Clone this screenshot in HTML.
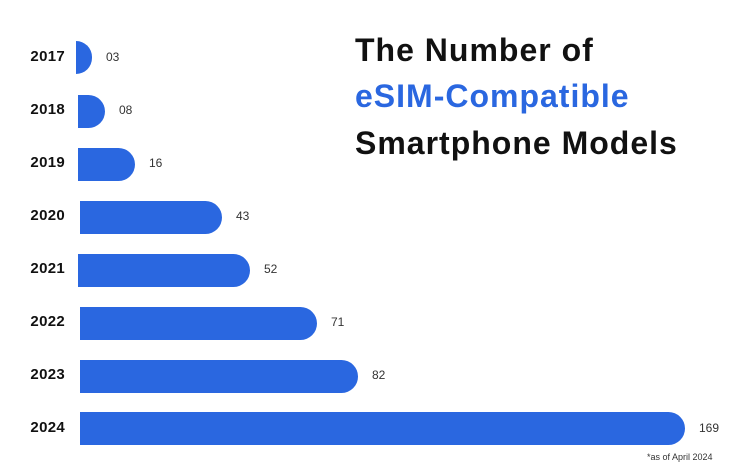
<!DOCTYPE html>
<html><head><style>
body{margin:0;width:745px;height:469px;background:#fff;position:relative;overflow:hidden;font-family:"Liberation Sans",sans-serif}
.y{position:absolute;left:0;width:65px;text-align:right;font-weight:bold;font-size:15px;color:#111;letter-spacing:0.3px}
.b{position:absolute;height:33px;background:#2a67e0;border-radius:0 17px 17px 0}
.v{position:absolute;font-size:12px;color:#333}
.t{position:absolute;left:355px;font-size:32px;font-weight:bold;color:#111;letter-spacing:1px}
</style></head><body>
<div class="t" style="top:32px">The Number of</div>
<div class="t" style="top:78px;color:#2a67e0">eSIM-Compatible</div>
<div class="t" style="top:125px">Smartphone Models</div>

<div class="y" style="top:48px">2017</div><div class="b" style="left:76px;top:41px;width:16px;border-radius:0 16px 16px 0"></div><div class="v" style="left:106px;top:50px">03</div>
<div class="y" style="top:101px">2018</div><div class="b" style="left:78px;top:95px;width:27px"></div><div class="v" style="left:119px;top:103px">08</div>
<div class="y" style="top:154px">2019</div><div class="b" style="left:78px;top:148px;width:57px"></div><div class="v" style="left:149px;top:156px">16</div>
<div class="y" style="top:207px">2020</div><div class="b" style="left:80px;top:201px;width:142px"></div><div class="v" style="left:236px;top:209px">43</div>
<div class="y" style="top:260px">2021</div><div class="b" style="left:78px;top:254px;width:172px"></div><div class="v" style="left:264px;top:262px">52</div>
<div class="y" style="top:313px">2022</div><div class="b" style="left:80px;top:307px;width:237px"></div><div class="v" style="left:331px;top:315px">71</div>
<div class="y" style="top:366px">2023</div><div class="b" style="left:80px;top:360px;width:278px"></div><div class="v" style="left:372px;top:368px">82</div>
<div class="y" style="top:419px">2024</div><div class="b" style="left:80px;top:412px;width:605px"></div><div class="v" style="left:699px;top:421px">169</div>
<div style="position:absolute;left:647px;top:452px;font-size:9px;color:#333">*as of April 2024</div>
</body></html>
